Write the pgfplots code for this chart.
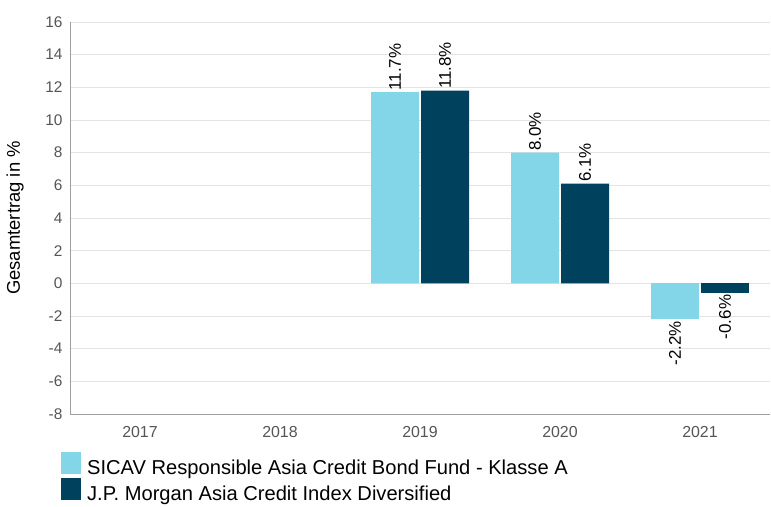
\documentclass[border=0pt]{standalone}
\usepackage{pgfplots}
\pgfplotsset{compat=1.18}
\usepackage{fontspec}
\setmainfont{Liberation Sans}
\usetikzlibrary{calc}

\definecolor{fundblue}{RGB}{131,213,232}
\definecolor{indexblue}{RGB}{0,66,94}
\definecolor{gridgray}{RGB}{228,228,228}
\definecolor{axisgray}{RGB}{160,160,160}
\definecolor{ticktext}{RGB}{85,85,85}

\begin{document}
\begin{tikzpicture}
\begin{axis}[
  scale only axis,
  width=700bp, height=392bp,
  clip=false,
  xmin=-0.5, xmax=4.5,
  ymin=-8, ymax=16,
  ytick={-8,-6,...,16},
  xtick={0,1,2,3,4},
  xticklabels={2017,2018,2019,2020,2021},
  /pgf/number format/assume math mode=true,
  axis x line=bottom, axis y line=left,
  axis line style={-, draw=axisgray},
  major tick length=0pt,
  ymajorgrids, grid style={draw=gridgray},
  tick label style={text=ticktext},
  yticklabel style={xshift=-4bp, font=\fontsize{15.5}{17}\selectfont},
  xticklabel style={yshift=-9bp, font=\fontsize{16}{18}\selectfont},
  ylabel={Gesamtertrag in \%},
  ylabel style={at={(rel axis cs:0,0.5)}, anchor=center, yshift=55bp, font=\fontsize{18.5}{20}\selectfont},
  legend style={at={(rel axis cs:0,0)}, anchor=north west, xshift=-12bp, yshift=-36bp,
    draw=none, fill=none, font=\fontsize{20.2}{22}\selectfont, row sep=0bp},
  legend cell align=left,
  legend image code/.code={\fill[#1] (0bp,-6bp) rectangle (20bp,16bp); \path (24bp,0bp);},
  nodes near coords={\pgfmathprintnumber[fixed,precision=1,fixed zerofill]{\pgfplotspointmeta}\%},
  every node near coord/.append style={font=\fontsize{17}{19}\selectfont, text=black, inner xsep=1.5bp},
]
% positive values
\addplot[ybar, bar width=48bp, bar shift=-25bp, fill=fundblue, draw=none,
  every node near coord/.append style={xshift=-25bp, rotate=90, anchor=west}]
  coordinates {(2,11.7) (3,8.0)};
\addlegendentry{SICAV Responsible Asia Credit Bond Fund - Klasse A}
\addplot[ybar, bar width=48bp, bar shift=25bp, fill=indexblue, draw=none,
  every node near coord/.append style={xshift=25bp, rotate=90, anchor=west}]
  coordinates {(2,11.8) (3,6.1)};
\addlegendentry{J.P. Morgan Asia Credit Index Diversified}
% negative values
\addplot[ybar, bar width=48bp, bar shift=-25bp, fill=fundblue, draw=none, forget plot,
  every node near coord/.append style={xshift=-25bp, rotate=90, anchor=east}]
  coordinates {(4,-2.2)};
\addplot[ybar, bar width=48bp, bar shift=25bp, fill=indexblue, draw=none, forget plot,
  every node near coord/.append style={xshift=25bp, rotate=90, anchor=east}]
  coordinates {(4,-0.6)};
% page frame
\path ($(rel axis cs:0,0)+(-70bp,-89bp)$) rectangle ($(rel axis cs:1,1)+(1bp,22bp)$);
\end{axis}
\end{tikzpicture}
\end{document}
